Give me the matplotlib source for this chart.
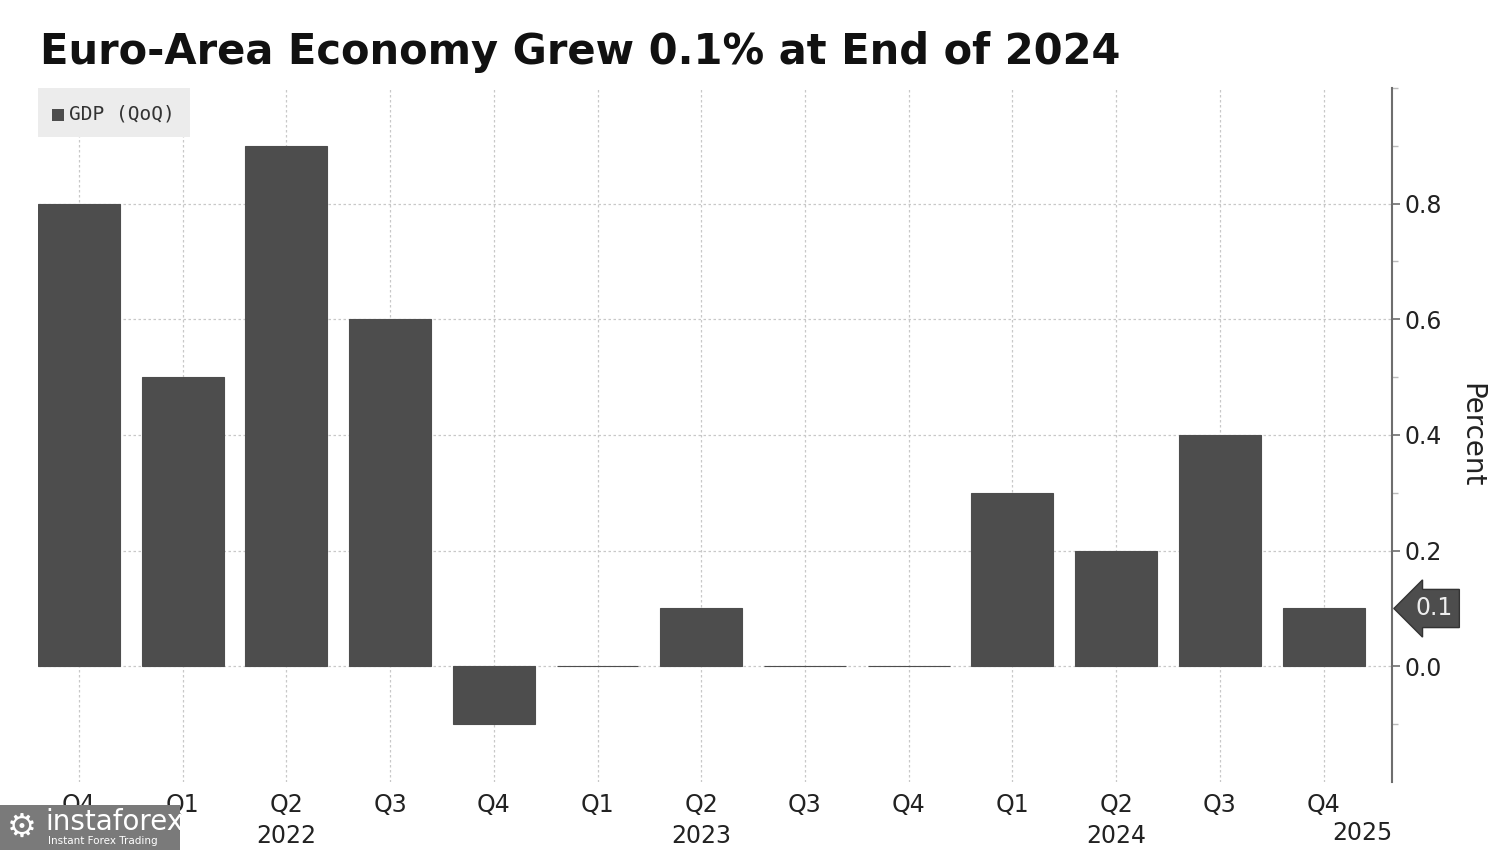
import matplotlib
matplotlib.use("Agg")
import matplotlib.pyplot as plt
from matplotlib.patches import Rectangle
import matplotlib.transforms as mtransforms

quarters = ["Q4", "Q1", "Q2", "Q3", "Q4", "Q1", "Q2", "Q3", "Q4", "Q1", "Q2", "Q3", "Q4"]
years = ["", "", "2022", "", "", "", "2023", "", "", "", "2024", "", ""]
gdp_qoq = [0.8, 0.5, 0.9, 0.6, -0.1, 0.0, 0.1, 0.0, 0.0, 0.3, 0.2, 0.4, 0.1]
last_value_label = "0.1"
extra_year_label = "2025"
yticks = [0.0, 0.2, 0.4, 0.6, 0.8]
minor_yticks = [-0.1, 0.1, 0.3, 0.5, 0.7, 0.9, 1.0]

bar_color = "#4d4d4d"
grid_color = "#c8c8c8"

fig = plt.figure(figsize=(15, 8.5), dpi=100)
ax = fig.add_axes([0.0253, 0.08, 0.9027, 0.8165])

x = list(range(len(gdp_qoq)))
ax.bar(x, gdp_qoq, width=0.79, color=bar_color, edgecolor=bar_color, linewidth=0.8, zorder=3)

ax.set_xlim(-0.395, 12.66)
ax.set_ylim(-0.2, 1.0)

# grid
for xi in x:
    ax.axvline(xi, color=grid_color, linestyle=(0, (2, 2)), linewidth=0.9, zorder=1)
for yv in yticks:
    ax.axhline(yv, color=grid_color, linestyle=(0, (2, 2)), linewidth=0.9, zorder=1)

# spines
for s in ["left", "top", "bottom"]:
    ax.spines[s].set_visible(False)
ax.spines["right"].set_color("#6e6e6e")
ax.spines["right"].set_linewidth(1.5)

ax.yaxis.tick_right()
ax.set_yticks(yticks)
ax.set_yticklabels([f"{v:.1f}" for v in yticks])
ax.set_yticks(minor_yticks, minor=True)
ax.tick_params(axis="y", which="major", direction="out", length=6, width=1.2,
               color="#6e6e6e", labelsize=17, pad=3, labelcolor="#222222")
ax.tick_params(axis="y", which="minor", direction="out", length=4, width=1.0,
               color="#bbbbbb")
ax.yaxis.set_label_position("right")
ax.set_ylabel("Percent", rotation=270, fontsize=20, labelpad=31, color="#222222")

ax.set_xticks(x)
ax.set_xticklabels([q + ("\n" + y if y else "\n") for q, y in zip(quarters, years)],
                   fontsize=17, color="#222222", linespacing=1.35)
ax.tick_params(axis="x", length=0, pad=8)

# extra year label for 2025
trans_x = mtransforms.blended_transform_factory(ax.transData, fig.transFigure)
ax.text(12.37, 1 - 833 / 850, extra_year_label, transform=trans_x, ha="center",
        va="center", fontsize=17, color="#222222")

# last value callout
trans_r = mtransforms.blended_transform_factory(ax.transAxes, ax.transData)
ax.text(1.017, gdp_qoq[-1], last_value_label, transform=trans_r, ha="left", va="center",
        fontsize=17, color="#eeeeee",
        bbox=dict(boxstyle="larrow,pad=0.3", facecolor=bar_color, edgecolor="#333333"))

# legend box
fig.patches.append(Rectangle((38 / 1500, 1 - 137 / 850), 152 / 1500, 49 / 850,
                             transform=fig.transFigure, facecolor="#ececec",
                             edgecolor="none", zorder=5))
fig.patches.append(Rectangle((52 / 1500, 1 - 121 / 850), 12 / 1500, 12 / 850,
                             transform=fig.transFigure, facecolor=bar_color,
                             edgecolor="none", zorder=6))
fig.text(69 / 1500, 1 - 114 / 850, "GDP (QoQ)", fontsize=14, family="DejaVu Sans Mono",
         color="#333333", va="center", ha="left", zorder=7)

# title
fig.text(40 / 1500, 1 - 52 / 850, "Euro-Area Economy Grew 0.1% at End of 2024",
         fontsize=30, fontweight="bold", color="#111111", va="center", ha="left")

# watermark
fig.patches.append(Rectangle((0, 0), 180 / 1500, 45 / 850, transform=fig.transFigure,
                             facecolor="#7a7a7a", edgecolor="none", zorder=8))
fig.text(45 / 1500, 1 - 822 / 850, "instaforex", fontsize=20, color="white",
         va="center", ha="left", zorder=9)
fig.text(48 / 1500, 1 - 841 / 850, "Instant Forex Trading", fontsize=7.5, color="white",
         va="center", ha="left", zorder=9)
fig.text(22 / 1500, 1 - 827 / 850, "\u2699", fontsize=24, color="white",
         va="center", ha="center", zorder=9)

fig.savefig("out.png", dpi=100, facecolor="white")
